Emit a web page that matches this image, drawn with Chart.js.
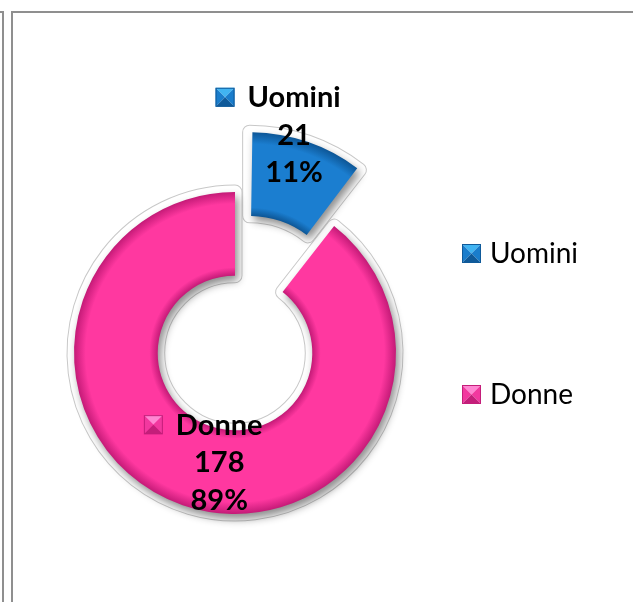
<!DOCTYPE html>
<html>
<head>
<meta charset="utf-8">
<script src="https://cdn.jsdelivr.net/npm/chart.js@4.4.1/dist/chart.umd.min.js"></script>
<style>
  html, body { margin: 0; padding: 0; background: #fff; }
  body { width: 633px; height: 602px; position: relative; overflow: hidden; }
  .frame-outer { position: absolute; left: -20px; top: 11px; width: 22px; height: 640px;
    border-top: 2px solid #8f8f8f; border-right: 2px solid #8f8f8f; }
  .frame-inner { position: absolute; left: 11px; top: 11px; width: 660px; height: 640px;
    border-top: 2px solid #8f8f8f; border-left: 2px solid #8f8f8f; }
  #wrap { position: absolute; left: 0; top: 0; width: 633px; height: 602px; }
</style>
</head>
<body>
<div class="frame-outer"></div>
<div class="frame-inner"></div>
<div id="wrap"><canvas id="genderChart"></canvas></div>

<script>
// dati
const categories = ["Uomini", "Donne"];
const counts = [21, 178];

// stile
const baseColors = ["#1B7ED0", "#FF38A0"];
const darkColors = ["#0D5696", "#C41A77"];
const markerShades = [
  ["#41B4F2", "#1A7DCC", "#0F5A9A"],
  ["#FF86D2", "#F2389F", "#C41E7A"],
];
const RADIUS = 161;
const CUTOUT = 0.48;
const explode = [180, 0];

const total = counts.reduce((a, b) => a + b, 0);
const percents = counts.map((v) => Math.round((v / total) * 100) + "%");

function ringFill(c) {
  const chart = c.chart;
  const area = chart.chartArea;
  const i = c.dataIndex;
  if (!area) return baseColors[i];
  const cx = (area.left + area.right) / 2;
  const cy = (area.top + area.bottom) / 2;
  const circ = (counts[i] / total) * Math.PI * 2;
  const ro = (explode[i] / 4) * (1 - Math.sin(Math.min(Math.PI, circ)));
  const r0 = RADIUS * CUTOUT + ro;
  const r1 = RADIUS + ro;
  const g = chart.ctx.createRadialGradient(cx, cy, r0, cx, cy, r1);
  g.addColorStop(0, darkColors[i]);
  g.addColorStop(0.1, baseColors[i]);
  g.addColorStop(0.86, baseColors[i]);
  g.addColorStop(1, darkColors[i]);
  return g;
}

function arcShape(arc) {
  const p = arc.getProps(["x", "y", "startAngle", "endAngle", "innerRadius", "outerRadius"], true);
  const off = (arc.options.offset || 0) / 4;
  const circ = p.endAngle - p.startAngle;
  const ro = off * (1 - Math.sin(Math.min(Math.PI, circ)));
  const half = (p.startAngle + p.endAngle) / 2;
  return {
    x: p.x + Math.cos(half) * off,
    y: p.y + Math.sin(half) * off,
    R: p.outerRadius + ro,
    r: p.innerRadius + ro,
    start: p.startAngle,
    end: p.endAngle,
  };
}

function bevelBox(ctx, x, y, s, i) {
  const c = markerShades[i];
  const mx = x + s / 2, my = y + s / 2;
  const tri = (pts, col) => {
    ctx.beginPath();
    ctx.moveTo(pts[0][0], pts[0][1]);
    ctx.lineTo(pts[1][0], pts[1][1]);
    ctx.lineTo(pts[2][0], pts[2][1]);
    ctx.closePath();
    ctx.fillStyle = col;
    ctx.fill();
  };
  ctx.save();
  tri([[x, y], [x + s, y], [mx, my]], c[0]);
  tri([[x, y], [x, y + s], [mx, my]], c[1]);
  tri([[x + s, y], [x + s, y + s], [mx, my]], c[1]);
  tri([[x, y + s], [x + s, y + s], [mx, my]], c[2]);
  ctx.strokeStyle = c[2];
  ctx.lineWidth = 1;
  ctx.strokeRect(x + 0.5, y + 0.5, s - 1, s - 1);
  ctx.restore();
}

// contorno chiaro + ombra sotto le fette
const glowShadow = {
  id: "glowShadow",
  beforeDatasetsDraw(chart) {
    const ctx = chart.ctx;
    const arcs = chart.getDatasetMeta(0).data;
    const outline = (width, color) => {
      arcs.forEach((arc) => {
        const a = arcShape(arc);
        ctx.beginPath();
        ctx.arc(a.x, a.y, a.R, a.start, a.end);
        ctx.arc(a.x, a.y, a.r, a.end, a.start, true);
        ctx.closePath();
        ctx.lineWidth = width;
        ctx.strokeStyle = color;
        ctx.stroke();
      });
    };
    ctx.save();
    ctx.lineJoin = "round";
    outline(15, "#c8c8c8");
    outline(13, "#ffffff");
    ctx.restore();
  },
  beforeDatasetDraw(chart) {
    const ctx = chart.ctx;
    ctx.save();
    ctx.shadowColor = "rgba(0,0,0,0.45)";
    ctx.shadowBlur = 8;
    ctx.shadowOffsetX = 3;
    ctx.shadowOffsetY = 5;
  },
  afterDatasetDraw(chart) {
    chart.ctx.restore();
  },
};

// etichette dei dati: nome, valore, percentuale
const sliceLabels = {
  id: "sliceLabels",
  afterDatasetsDraw(chart, args, opts) {
    const ctx = chart.ctx;
    const arcs = chart.getDatasetMeta(0).data;
    ctx.save();
    ctx.font = "bold 29px Lato";
    ctx.textBaseline = "middle";
    ctx.textAlign = "center";
    arcs.forEach((arc, i) => {
      const pos = arc.tooltipPosition(true);
      const cx = pos.x + opts.shift[i][0];
      const cy = pos.y + opts.shift[i][1];
      const lh = 37.5;
      ctx.fillStyle = "#000";
      ctx.fillText(categories[i], cx, cy - lh);
      ctx.fillText(String(counts[i]), cx, cy);
      ctx.fillText(percents[i], cx, cy + lh);
      const w = ctx.measureText(categories[i]).width;
      bevelBox(ctx, cx - w / 2 - 32, cy - lh - 10, 19, i);
    });
    ctx.restore();
  },
};

// legenda a destra
const sideLegend = {
  id: "sideLegend",
  afterDraw(chart, args, opts) {
    const ctx = chart.ctx;
    ctx.save();
    ctx.font = "28px Lato";
    ctx.textBaseline = "middle";
    ctx.textAlign = "left";
    categories.forEach((name, i) => {
      const y = opts.top + i * opts.gap;
      bevelBox(ctx, opts.left, y - 9, 19, i);
      ctx.fillStyle = "#000";
      ctx.fillText(name, opts.left + 28, y + 1);
    });
    ctx.restore();
  },
};

document.addEventListener("DOMContentLoaded", () => {
  const canvas = document.getElementById("genderChart");

  new Chart(canvas, {
    type: "doughnut",
    data: {
      labels: categories,
      datasets: [
        {
          data: counts,
          backgroundColor: ringFill,
          borderWidth: 0,
          offset: explode,
        },
      ],
    },
    options: {
      responsive: true,
      maintainAspectRatio: false,
      animation: false,
      radius: RADIUS,
      cutout: CUTOUT * 100 + "%",
      rotation: 0,
      layout: {
        padding: { left: 10, right: 173, top: 114, bottom: 10 },
      },
      plugins: {
        legend: { display: false },
        tooltip: { enabled: false },
        sliceLabels: { shift: [[-9, -20], [23, -3]] },
        sideLegend: { left: 462, top: 253, gap: 141 },
      },
    },
    plugins: [glowShadow, sliceLabels, sideLegend],
  });
});
</script>
</body>
</html>
